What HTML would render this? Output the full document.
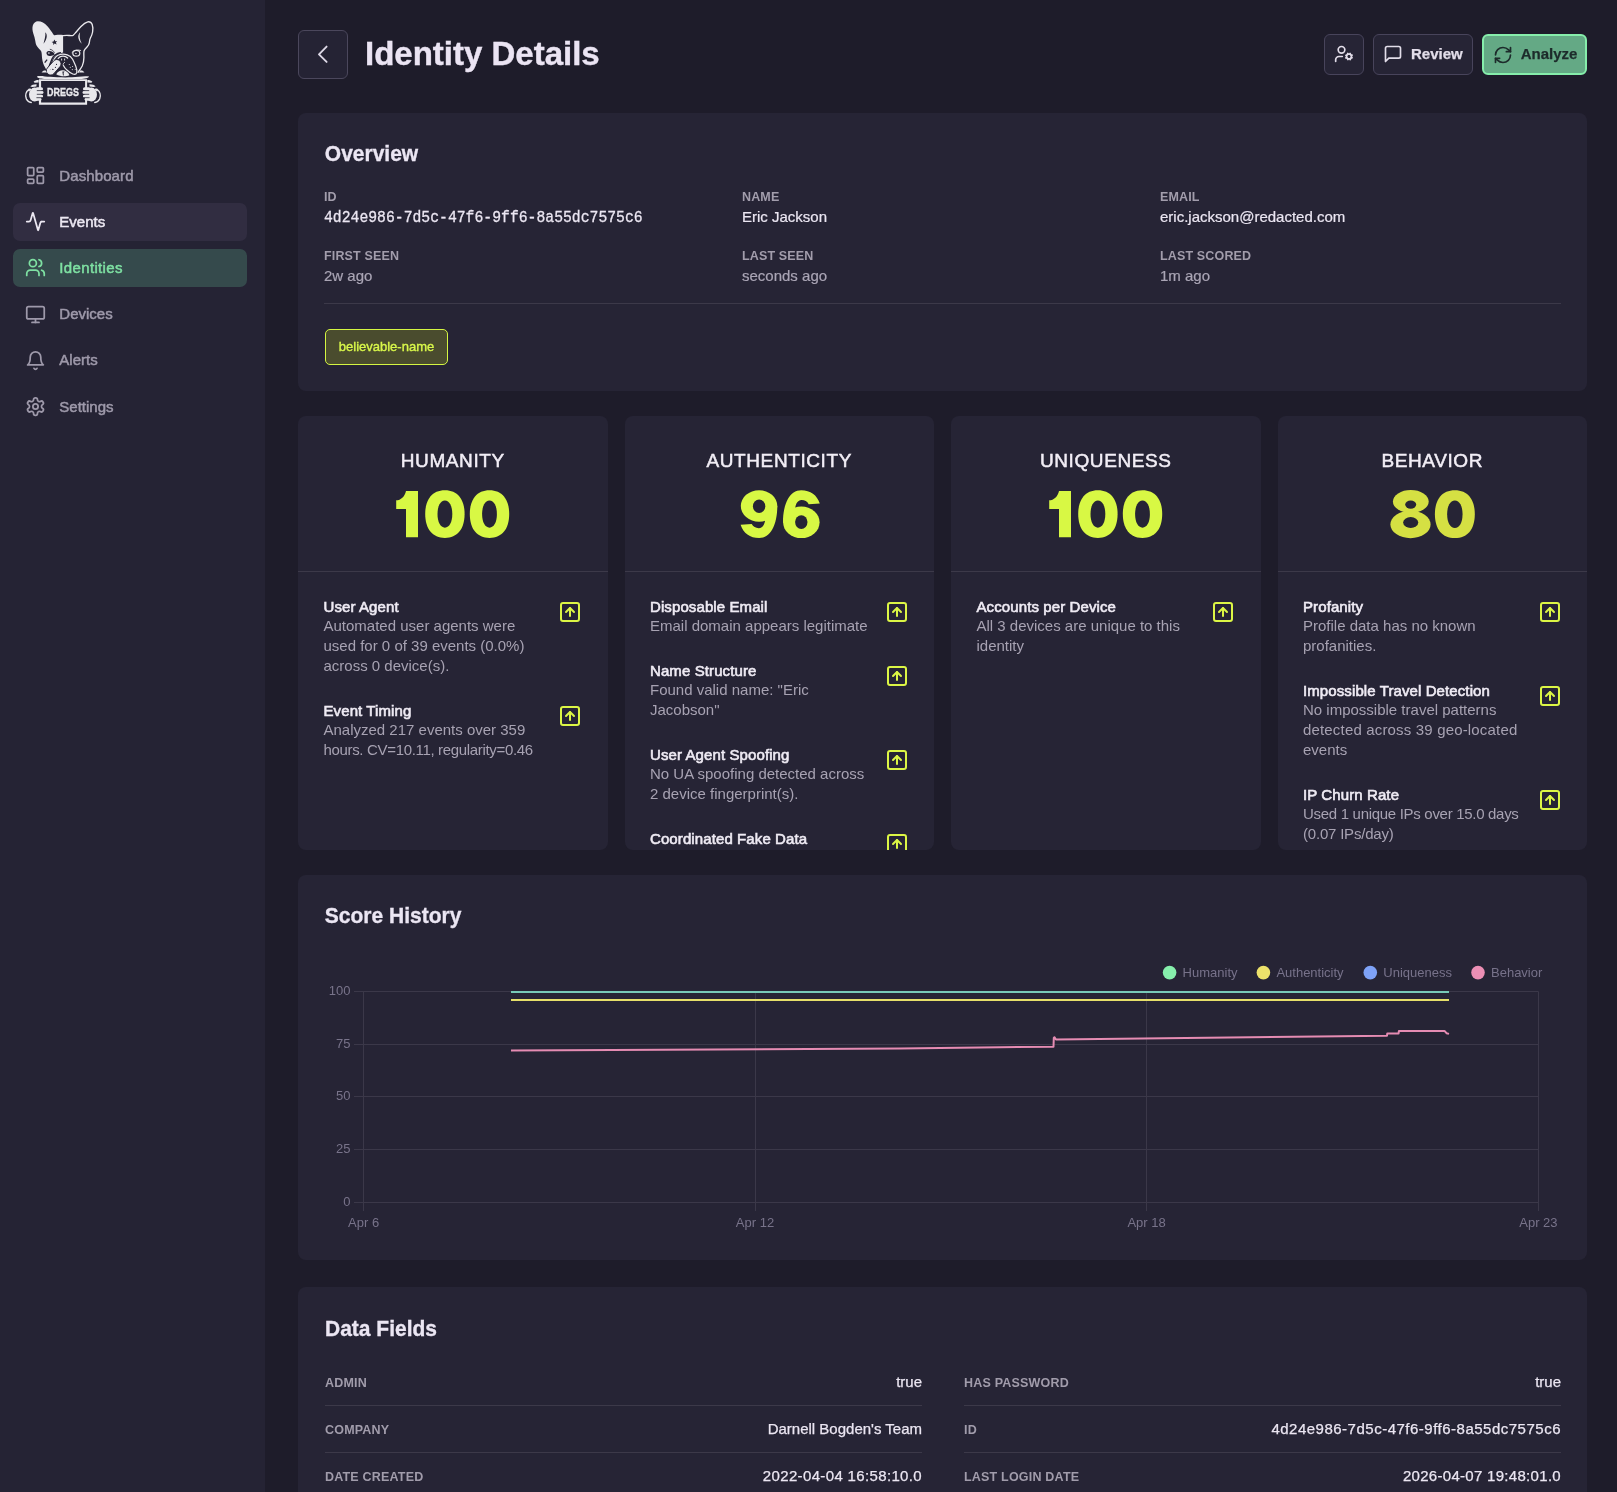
<!DOCTYPE html>
<html><head><meta charset="utf-8"><title>Identity Details</title>
<style>
*{box-sizing:border-box;margin:0;padding:0}
html,body{width:1617px;height:1492px;overflow:hidden}
body{background:#1e1c2a;font-family:"Liberation Sans",sans-serif;color:#e8e4f0;position:relative}
.side{position:absolute;left:0;top:0;width:265px;height:1492px;background:#252334}
.nav{position:absolute;left:13px;width:234px;height:38px;border-radius:7px;font-size:15px;line-height:20px;color:#9e99aa;-webkit-text-stroke:0.5px currentColor}
.nav svg{position:absolute;left:11.5px;top:8px}
.nav span{position:absolute;left:46.3px;top:9px}
.nav.hov{background:#312d41;color:#ece8f2}
.nav.act{background:#354a4c;color:#7ee0a2}
.main{position:absolute;left:298px;top:0;width:1289px}
.card{position:absolute;background:#262435;border-radius:8px}
.h2{position:absolute;font-size:21px;line-height:24px;font-weight:bold;color:#ebe6f3;-webkit-text-stroke:0.3px #ebe6f3;transform:scaleY(1.07);transform-origin:0 19.3px}

.back{position:absolute;left:298px;top:30px;width:50px;height:49px;border:1.7px solid #4b475c;border-radius:6px;background:#252334;color:#ddd8e6}
.back svg{position:absolute;left:-1.5px;top:-1.5px}
.title{position:absolute;left:365px;top:34.2px;font-size:33px;line-height:40px;font-weight:bold;color:#ebe4f3;-webkit-text-stroke:0.4px #ebe4f3}
.btn{position:absolute;top:34px;height:40.6px;border:1.7px solid #48445b;border-radius:6px;background:#262435;color:#e2dde9;font-size:15px;font-weight:bold;-webkit-text-stroke:0.25px currentColor}
.btn svg{position:absolute;left:9px;top:9.3px}
.btn span{position:absolute;left:37px;top:8.6px;line-height:20px}
.btn.grn{background:#64a985;border:2px solid #86eeab;color:#1d2b2b}
.btn.grn span{left:36.7px;top:8.3px}
.btn.grn svg{left:8.7px;top:9.2px}
.f{position:absolute}
.lab{font-size:12.5px;font-weight:bold;color:#a29dac;letter-spacing:0.15px;line-height:14px;margin-top:1px}
.val{font-size:15px;color:#ebe6f2;margin-top:3.5px;line-height:17px;-webkit-text-stroke:0.2px currentColor}
.val.dim{color:#aaa5b5}
.mono{font-family:"Liberation Mono",monospace;font-size:14.75px;-webkit-text-stroke:0.25px currentColor;transform:translateY(1.9px) scaleY(1.13);transform-origin:0 12.45px}
.hr{position:absolute;height:1px;background:#3c3949}
.tag{position:absolute;left:27px;top:216px;height:36px;width:123px;border:1.5px solid #d4f542;border-radius:5px;background:#4a4c2e;color:#d9f84a;font-size:13px;-webkit-text-stroke:0.35px currentColor;text-align:center;line-height:33px}

.sc{overflow:hidden}
.num{position:absolute;left:0;top:0}
.sct{position:absolute;left:0;width:100%;top:32.5px;text-align:center;font-size:19px;line-height:24px;color:#f2eef6;letter-spacing:0.6px;-webkit-text-stroke:0.5px #f2eef6}
.scn{position:absolute;left:0;width:310px;top:64px;text-align:center;font-size:67px;line-height:80px;font-weight:bold;color:#d7f946}
.scn span{display:inline-block;transform:scaleX(1.08)}
.scn.b80{color:#d6e03e}
.items{position:absolute;left:25.5px;top:181.8px;width:285px}
.it{position:relative;margin-bottom:26px}
.itt{font-size:15px;line-height:18px;color:#efebf4;letter-spacing:0.1px;-webkit-text-stroke:0.6px #efebf4}
.itd{font-size:15px;line-height:20px;color:#a7a2b2}
.ic{position:absolute;left:234.6px;top:2.1px;color:#dcf645}

.chart{position:absolute;left:0;top:0}
.yl{font-family:"Liberation Sans",sans-serif;font-size:13px;fill:#78738a}
.lg{font-family:"Liberation Sans",sans-serif;font-size:13px;fill:#77728a}
.dr{position:absolute;width:597px;height:24px;line-height:24px}
.dk{position:absolute;left:0;top:0;font-size:12.5px;font-weight:bold;color:#a19cab;letter-spacing:0.2px}
.dv{position:absolute;right:0;top:-1.2px;font-size:15px;color:#ebe6f2;-webkit-text-stroke:0.25px currentColor}
.root{position:absolute;left:0;top:0;width:1617px;height:1492px;will-change:transform}
</style></head>
<body><div class="root">
<div class="side">
  <svg class="logo" width="140" height="120" viewBox="0 0 140 120" style="position:absolute;left:0;top:0">
<defs><style>.w{fill:#e9e8ec}.d{fill:#252334}.ws{fill:none;stroke:#e9e8ec;stroke-linecap:round;stroke-linejoin:round}.ds{fill:none;stroke:#252334;stroke-linecap:round;stroke-linejoin:round}</style></defs>
<!-- left ear + left half face -->
<path class="w" d="M37.9,21.2 C35.6,21.2 33.6,23 32.8,25.6 C32.1,28.4 32.5,31 33.3,33.4 C34.2,36 34.9,38.5 35.3,41 C35.6,43.2 36,45 37.2,46.6 C38.4,48.3 40,49.6 41.3,51.6 C41.9,53.6 41.8,56 42.1,58.5 C42.5,61.5 43.4,64.5 45,67.3 C45.8,68.8 46.8,70.6 47.8,72.2 L52,62 L56.6,54.4 L63.1,52.6 L63.1,35.1 C61,34.8 58.4,34.6 56,35.1 C55,35.3 54.2,35.3 53.4,34.4 C51.6,31.8 49.6,28.6 47.2,26 C44.6,23 41.4,21.2 37.9,21.2 Z"/>
<!-- right ear + face outline -->
<path class="ws" stroke-width="1.35" d="M63.1,35.6 C65,35.4 67,35.2 69,35.5 C70.6,35.7 71.8,35.9 73,35.3 C74.2,34.6 75,33.4 76,32.2 C77.6,30.2 79.2,28.2 81,26.4 C83.2,24.2 85.4,22.4 87.8,21.8 C89.6,21.5 91.2,22.3 92.2,24.6 C93,26.8 93,29.6 92.6,32 C92.2,34.2 91.4,36.2 90.4,38 C89.6,39.6 89.6,41.2 89.3,42.8 C89,44.4 88.2,45.8 87,47 C85.8,48.2 84.4,49.4 84,51 C83.6,53 83.9,55.4 83.9,57.6 C83.9,60.6 83.4,63.4 82.2,66 C80.8,68.6 79.2,70.6 78,72.4"/>
<!-- left ear slit -->
<path class="d" d="M45.3,32.2 C47.6,34.6 47.4,38.8 43.5,43.8 C44.3,39.8 45.9,36 45.3,32.2 Z"/>
<!-- right ear inner -->
<path class="w" d="M80.1,32.2 C77.3,35 77.6,39.6 81.8,43.8 C79.6,39.6 79.2,35.6 80.1,32.2 Z"/>
<!-- star -->
<path class="d" d="M54.4,39.6 L55.3,41.3 L57.2,41.2 L55.9,42.6 L56.6,44.5 L54.7,43.6 L53.1,44.9 L53.3,42.9 L51.6,41.9 L53.5,41.4 Z"/>
<!-- left eye -->
<path class="d" d="M46.5,52.4 C47.6,50.8 50.2,50.6 52.4,51.8 C53.6,52.6 54.4,53.6 54.6,54.6 C53,55.8 50.6,56.4 48.6,55.8 C47.2,55.3 46.2,54 46.5,52.4 Z"/>
<circle class="w" cx="48.9" cy="53.1" r="0.8"/>
<path class="ds" stroke-width="0.8" d="M50.2,49.3 C52,49.6 53.6,50.8 54.3,52.6"/>
<!-- right eye -->
<ellipse class="ws" stroke-width="1.2" cx="76.3" cy="53.2" rx="3.5" ry="2.9"/>
<path class="ws" stroke-width="0.9" d="M72,52.4 C74,50.2 77.6,49.4 80.6,50.4"/>
<circle class="w" cx="75.9" cy="53.4" r="0.7"/>
<!-- cheek dash -->
<path class="d" d="M46.6,59.2 L47.6,60 L45.2,62.9 L44.2,62.2 Z"/>
<!-- muzzle interior dark -->
<path class="d" d="M48.4,72.6 C49,68.5 50.5,63.5 52.6,59.2 C54.4,56 57.8,53.6 62.2,53.2 C66.8,53 70.4,54.8 72.6,57.8 C74.6,60.8 76,64.6 77.2,68.2 C77.8,70.4 77.8,72.6 76.6,74 C75,75.4 72.4,75 70.4,73.6 L66,76.5 L56,76.5 Z"/>
<!-- muzzle dark outline over white face -->
<path class="ds" stroke-width="1.5" d="M47.6,72.8 C48.4,68.6 49.8,63.6 52,59 C53.8,55.6 56.8,53.4 60.4,52.8"/>
<!-- muzzle white outline -->
<path class="ws" stroke-width="1.25" d="M53.1,61.6 C54.2,58.6 55.6,56.4 58,55.2 C60.6,54 64.2,53.8 67.2,54.8 C69.6,55.6 71.4,57 72.6,59.2 C73.8,61.4 74.8,63.8 75.8,66.2 C76.6,68.4 77.4,70.6 76.8,72.6 C76.2,74.2 74.4,74.6 72.8,74 C70.8,73.2 69,71.8 67.2,70.2 C65.6,68.8 64.2,67.2 63.4,65.4"/>
<!-- nose top arc -->
<path class="ws" stroke-width="1.3" d="M58.2,58.4 C59.6,56.8 61.4,56.2 63,56.2 C64.8,56.2 66.4,56.8 67.6,58"/>
<!-- nostrils -->
<rect class="w" x="61.2" y="58.4" width="0.9" height="2.2" rx="0.3"/>
<rect class="w" x="64.2" y="58.4" width="0.9" height="2.2" rx="0.3"/>
<!-- nose bottom -->
<path class="ws" stroke-width="1" d="M63.2,64.2 C63.6,63 64.2,62.4 64.6,62.4"/>
<!-- band-aid jowl -->
<g transform="rotate(-48.7 53.7 67.3)">
<rect x="44.8" y="63" width="17.8" height="8.6" rx="4.2" fill="#e9e8ec" stroke="#252334" stroke-width="0.9"/>
</g>
<circle class="d" cx="56.5" cy="64.4" r="0.55"/><circle class="d" cx="55.4" cy="67.4" r="0.55"/><circle class="d" cx="52.5" cy="69.3" r="0.55"/><circle class="d" cx="53.5" cy="69.5" r="0.45"/><circle class="d" cx="50.5" cy="69.2" r="0.3"/>
<!-- right jowl dots -->
<circle class="w" cx="69.3" cy="64.5" r="0.55"/><circle class="w" cx="70.3" cy="67.2" r="0.55"/><circle class="w" cx="72.6" cy="66.5" r="0.55"/><circle class="w" cx="72.3" cy="69.6" r="0.55"/><circle class="w" cx="75.2" cy="69.6" r="0.5"/>
<!-- chin -->
<path class="w" d="M56.2,74.2 C57.8,71.4 60.6,70 63.2,70.2 C65.2,70.4 67,71.6 68.6,73.4 L69.4,75.2 C66,76.8 60.4,76.8 56.2,74.2 Z"/>
<path class="d" d="M62.4,71.4 L64.6,71.6 L63.6,72.8 L63.8,75.4 L63,75.4 L62.6,73.2 Z"/>
<!-- shoulder triangles -->
<path class="w" d="M41.6,72.4 C42.6,71 44,70.2 45.4,70.2 L47,72.4 Z"/>
<path class="w" d="M84.4,72.4 C83.4,71 82,70.2 80.6,70.2 L79,72.4 Z"/>
<!-- collar band -->
<path class="w" d="M36.8,76.4 C40.5,75.2 45,76.6 50,76.8 C56,77.3 64,77.6 72,77.3 C78,77 83,75.6 89.2,76.4 C88.4,78 85,78.8 80,79 L46,79 C41,78.8 37.6,78.2 36.8,76.4 Z"/>
<!-- sleeve stripes left -->
<path class="w" d="M33.6,81.8 C34.6,80.6 36.4,80 38.6,80 L38.6,82.6 L34.6,82.8 Z"/>
<path class="w" d="M30.4,86.4 C31.4,85 33.6,84.2 36.6,84.2 L36.4,86.4 L32.4,87 Z"/>
<path class="w" d="M28,90.8 C28.6,89.6 29.6,88.8 31,88.6 L31.4,89.8 L29,91.6 Z"/>
<!-- sleeve stripes right -->
<path class="w" d="M92.4,81.8 C91.4,80.6 89.6,80 87.4,80 L87.4,82.6 L91.4,82.8 Z"/>
<path class="w" d="M95.6,86.4 C94.6,85 92.4,84.2 89.4,84.2 L89.6,86.4 L93.6,87 Z"/>
<path class="w" d="M98,90.8 C97.4,89.6 96.4,88.8 95,88.6 L94.6,89.8 L97,91.6 Z"/>
<!-- sign -->
<path class="w" fill-rule="evenodd" d="M38.9,79.2 H87.1 V104.8 H38.9 Z M41.1,80.9 V102.4 H85.1 V80.9 Z"/>
<!-- paws -->
<ellipse class="w" cx="34.6" cy="94.6" rx="5.6" ry="7"/>
<rect class="w" x="35.5" y="87.2" width="7.5" height="3.3" rx="1.6"/>
<rect class="w" x="35.5" y="90.7" width="8.0" height="3.5" rx="1.6"/>
<rect class="w" x="35.5" y="94.4" width="7.5" height="3.4" rx="1.6"/>
<rect class="w" x="34.5" y="97.6" width="6.9" height="3.2" rx="1.6"/>
<path class="ds" stroke-width="0.8" d="M37.2,90.6 H43.6 M37.2,94.3 H43.6 M36.8,97.7 H42.4"/>
<ellipse class="w" cx="91.4" cy="94.6" rx="5.6" ry="7"/>
<rect class="w" x="83.0" y="87.2" width="7.5" height="3.3" rx="1.6"/>
<rect class="w" x="82.5" y="90.7" width="8.0" height="3.5" rx="1.6"/>
<rect class="w" x="83.0" y="94.4" width="7.5" height="3.4" rx="1.6"/>
<rect class="w" x="84.6" y="97.6" width="6.9" height="3.2" rx="1.6"/>
<path class="ds" stroke-width="0.8" d="M88.8,90.6 H82.4 M88.8,94.3 H82.4 M89.2,97.7 H83.6"/>
<path class="ws" stroke-width="1.5" d="M29.4,89.2 C26.2,91.4 24.8,95.4 26.4,99 C27.4,101 29.2,102.2 31.2,102.4"/>
<path class="ws" stroke-width="1.5" d="M96.6,89.2 C99.8,91.4 101.2,95.4 99.6,99 C98.6,101 96.8,102.2 94.8,102.4"/>
<text x="63" y="96" text-anchor="middle" font-family="Liberation Sans" font-weight="bold" font-size="11.8" fill="#e9e8ec" stroke="#e9e8ec" stroke-width="0.35" transform="translate(63 0) scale(0.76 1) translate(-63 0)">DREGS</text>
</svg>

  <div class="nav" style="top:157px"><svg width="21" height="21" viewBox="0 0 24 24" fill="none" stroke="currentColor" stroke-width="2" stroke-linecap="round" stroke-linejoin="round"><rect width="7" height="9" x="3" y="3" rx="1"/><rect width="7" height="5" x="14" y="3" rx="1"/><rect width="7" height="9" x="14" y="12" rx="1"/><rect width="7" height="5" x="3" y="16" rx="1"/></svg><span style="letter-spacing:0.1px">Dashboard</span></div>
  <div class="nav hov" style="top:203px"><svg width="21" height="21" viewBox="0 0 24 24" fill="none" stroke="currentColor" stroke-width="2" stroke-linecap="round" stroke-linejoin="round"><path d="M22 12h-2.48a2 2 0 0 0-1.93 1.46l-2.35 8.36a.25.25 0 0 1-.48 0L9.24 2.18a.25.25 0 0 0-.48 0l-2.35 8.36A2 2 0 0 1 4.49 12H2"/></svg><span>Events</span></div>
  <div class="nav act" style="top:249px"><svg width="21" height="21" viewBox="0 0 24 24" fill="none" stroke="currentColor" stroke-width="2" stroke-linecap="round" stroke-linejoin="round"><path d="M16 21v-2a4 4 0 0 0-4-4H6a4 4 0 0 0-4 4v2"/><circle cx="9" cy="7" r="4"/><path d="M22 21v-2a4 4 0 0 0-3-3.87"/><path d="M16 3.13a4 4 0 0 1 0 7.75"/></svg><span style="letter-spacing:0.35px">Identities</span></div>
  <div class="nav" style="top:295px"><svg style="top:9px" width="21" height="21" viewBox="0 0 24 24" fill="none" stroke="currentColor" stroke-width="2" stroke-linecap="round" stroke-linejoin="round"><rect width="20" height="14" x="2" y="3" rx="2"/><line x1="8" x2="16" y1="21" y2="21"/><line x1="12" x2="12" y1="17" y2="21"/></svg><span>Devices</span></div>
  <div class="nav" style="top:341px"><svg style="top:9px" width="21" height="21" viewBox="0 0 24 24" fill="none" stroke="currentColor" stroke-width="2" stroke-linecap="round" stroke-linejoin="round"><path d="M6 8a6 6 0 0 1 12 0c0 7 3 9 3 9H3s3-2 3-9"/><path d="M10.3 21a1.94 1.94 0 0 0 3.4 0"/></svg><span>Alerts</span></div>
  <div class="nav" style="top:388px"><svg width="21" height="21" viewBox="0 0 24 24" fill="none" stroke="currentColor" stroke-width="2" stroke-linecap="round" stroke-linejoin="round"><path d="M12.22 2h-.44a2 2 0 0 0-2 2v.18a2 2 0 0 1-1 1.73l-.43.25a2 2 0 0 1-2 0l-.15-.08a2 2 0 0 0-2.73.73l-.22.38a2 2 0 0 0 .73 2.73l.15.1a2 2 0 0 1 1 1.72v.51a2 2 0 0 1-1 1.74l-.15.09a2 2 0 0 0-.73 2.73l.22.38a2 2 0 0 0 2.73.73l.15-.08a2 2 0 0 1 2 0l.43.25a2 2 0 0 1 1 1.73V20a2 2 0 0 0 2 2h.44a2 2 0 0 0 2-2v-.18a2 2 0 0 1 1-1.73l.43-.25a2 2 0 0 1 2 0l.15.08a2 2 0 0 0 2.73-.73l.22-.39a2 2 0 0 0-.73-2.73l-.15-.08a2 2 0 0 1-1-1.74v-.5a2 2 0 0 1 1-1.74l.15-.09a2 2 0 0 0 .73-2.73l-.22-.38a2 2 0 0 0-2.73-.73l-.15.08a2 2 0 0 1-2 0l-.43-.25a2 2 0 0 1-1-1.73V4a2 2 0 0 0-2-2z"/><circle cx="12" cy="12" r="3"/></svg><span>Settings</span></div>
</div>

<div class="back"><svg width="50" height="49" viewBox="0 0 50 49" fill="none" stroke="currentColor" stroke-width="1.9" stroke-linecap="round" stroke-linejoin="round"><path d="M28.6,16.6 L21,24.3 L28.6,31.9"/></svg></div>
<div class="title">Identity Details</div>
<div class="btn ico" style="left:1324px;width:40px"><svg width="20" height="20" viewBox="0 0 24 24" fill="none" stroke="currentColor" stroke-width="2" stroke-linecap="round" stroke-linejoin="round"><circle cx="18" cy="15" r="3"/><circle cx="9" cy="7" r="4"/><path d="M10 15H6a4 4 0 0 0-4 4v2"/><path d="m21.7 16.4-.9-.3"/><path d="m15.2 13.9-.9-.3"/><path d="m16.6 18.7.3-.9"/><path d="m19.1 12.2.3-.9"/><path d="m19.6 18.7-.4-1"/><path d="m16.8 12.3-.4-1"/><path d="m14.3 16.6 1-.4"/><path d="m20.7 13.8 1-.4"/></svg></div>
<div class="btn" style="left:1373px;width:100px"><svg width="20" height="20" viewBox="0 0 24 24" fill="none" stroke="currentColor" stroke-width="2" stroke-linecap="round" stroke-linejoin="round"><path d="M21 15a2 2 0 0 1-2 2H7l-4 4V5a2 2 0 0 1 2-2h14a2 2 0 0 1 2 2z"/></svg><span>Review</span></div>
<div class="btn grn" style="left:1482px;width:105px"><svg width="20" height="20" viewBox="0 0 24 24" fill="none" stroke="currentColor" stroke-width="2" stroke-linecap="round" stroke-linejoin="round"><path d="M3 12a9 9 0 0 1 9-9 9.75 9.75 0 0 1 6.74 2.74L21 8"/><path d="M21 3v5h-5"/><path d="M21 12a9 9 0 0 1-9 9 9.75 9.75 0 0 1-6.74-2.74L3 16"/><path d="M8 16H3v5"/></svg><span>Analyze</span></div>

<div class="card" style="left:298px;top:113px;width:1289px;height:278px">
  <div class="h2" style="left:26.8px;top:29px">Overview</div>
  <div class="f" style="left:26px;top:76px"><div class="lab">ID</div><div class="val mono">4d24e986-7d5c-47f6-9ff6-8a55dc7575c6</div></div>
  <div class="f" style="left:444px;top:76px"><div class="lab">NAME</div><div class="val">Eric Jackson</div></div>
  <div class="f" style="left:862px;top:76px"><div class="lab">EMAIL</div><div class="val">eric.jackson@redacted.com</div></div>
  <div class="f" style="left:26px;top:135px"><div class="lab">FIRST SEEN</div><div class="val dim">2w ago</div></div>
  <div class="f" style="left:444px;top:135px"><div class="lab">LAST SEEN</div><div class="val dim">seconds ago</div></div>
  <div class="f" style="left:862px;top:135px"><div class="lab">LAST SCORED</div><div class="val dim">1m ago</div></div>
  <div class="hr" style="left:26px;top:190px;width:1237px"></div>
  <div class="tag">believable-name</div>
</div>
<div class="card sc" style="left:298px;top:416px;width:309.5px;height:433.5px"><div class="sct">HUMANITY</div><svg class="num" width="309.5" height="155" viewBox="298 416 309.5 155"><path transform="translate(395.80 490.20)" d="M10.2,0.8 H22.2 V47 H10.2 V18.9 H0.4 V10.1 C5,10.1 9,6.5 10.2,0.8 Z" fill="#d8f844"/><path d="M425.20,514.05 C425.20,499.02 432.49,490.20 444.90,490.20 C457.31,490.20 464.60,499.02 464.60,514.05 C464.60,529.08 457.31,537.90 444.90,537.90 C432.49,537.90 425.20,529.08 425.20,514.05 Z" fill="#d8f844"/><path d="M437.50,514.05 C437.50,505.89 440.46,500.45 444.90,500.45 C449.34,500.45 452.30,505.89 452.30,514.05 C452.30,522.21 449.34,527.65 444.90,527.65 C440.46,527.65 437.50,522.21 437.50,514.05 Z" fill="#262435"/><path d="M469.80,514.05 C469.80,499.02 477.09,490.20 489.50,490.20 C501.91,490.20 509.20,499.02 509.20,514.05 C509.20,529.08 501.91,537.90 489.50,537.90 C477.09,537.90 469.80,529.08 469.80,514.05 Z" fill="#d8f844"/><path d="M482.10,514.05 C482.10,505.89 485.06,500.45 489.50,500.45 C493.94,500.45 496.90,505.89 496.90,514.05 C496.90,522.21 493.94,527.65 489.50,527.65 C485.06,527.65 482.10,522.21 482.10,514.05 Z" fill="#262435"/></svg><div class="hr" style="left:0;top:155px;width:100%"></div><div class="items"><div class="it"><div class="itt">User Agent</div><div class="itd">Automated user agents were<br>used for 0 of 39 events (0.0%)<br>across 0 device(s).</div><svg class="ic" width="24" height="24" viewBox="0 0 24 24" fill="none" stroke="currentColor" stroke-width="2" stroke-linecap="round" stroke-linejoin="round"><rect width="18" height="18" x="3" y="3" rx="2"/><path d="m16 12-4-4-4 4"/><path d="M12 16V8"/></svg></div><div class="it"><div class="itt">Event Timing</div><div class="itd">Analyzed 217 events over 359<br><span style="letter-spacing:-0.33px">hours. CV=10.11, regularity=0.46</span></div><svg class="ic" width="24" height="24" viewBox="0 0 24 24" fill="none" stroke="currentColor" stroke-width="2" stroke-linecap="round" stroke-linejoin="round"><rect width="18" height="18" x="3" y="3" rx="2"/><path d="m16 12-4-4-4 4"/><path d="M12 16V8"/></svg></div></div></div>
<div class="card sc" style="left:624.5px;top:416px;width:309.5px;height:433.5px"><div class="sct">AUTHENTICITY</div><svg class="num" width="309.5" height="155" viewBox="624.5 416 309.5 155"><g transform="translate(739.90 490.20) rotate(180 18.45 23.95)"><ellipse cx="18.25" cy="32.15" rx="18.25" ry="15.75" fill="#d8f844"/><path d="M0,32 C0,12.8 6.9,0 18.1,0 C27.4,0 33.9,4.8 36.7,13.3 L25.6,14 C24.2,11.4 21.6,9.9 18.6,9.9 C13.9,9.9 11.9,14.8 11.9,21.8 L11.9,32 Z" fill="#d8f844"/><ellipse cx="18.2" cy="31.9" rx="6.2" ry="6.8" fill="#262435"/></g><g transform="translate(782.60 490.20)"><ellipse cx="18.25" cy="32.15" rx="18.25" ry="15.75" fill="#d8f844"/><path d="M0,32 C0,12.8 6.9,0 18.1,0 C27.4,0 33.9,4.8 36.7,13.3 L25.6,14 C24.2,11.4 21.6,9.9 18.6,9.9 C13.9,9.9 11.9,14.8 11.9,21.8 L11.9,32 Z" fill="#d8f844"/><ellipse cx="18.2" cy="31.9" rx="6.2" ry="6.8" fill="#262435"/></g></svg><div class="hr" style="left:0;top:155px;width:100%"></div><div class="items"><div class="it"><div class="itt">Disposable Email</div><div class="itd">Email domain appears legitimate</div><svg class="ic" width="24" height="24" viewBox="0 0 24 24" fill="none" stroke="currentColor" stroke-width="2" stroke-linecap="round" stroke-linejoin="round"><rect width="18" height="18" x="3" y="3" rx="2"/><path d="m16 12-4-4-4 4"/><path d="M12 16V8"/></svg></div><div class="it"><div class="itt">Name Structure</div><div class="itd">Found valid name: "Eric<br>Jacobson"</div><svg class="ic" width="24" height="24" viewBox="0 0 24 24" fill="none" stroke="currentColor" stroke-width="2" stroke-linecap="round" stroke-linejoin="round"><rect width="18" height="18" x="3" y="3" rx="2"/><path d="m16 12-4-4-4 4"/><path d="M12 16V8"/></svg></div><div class="it"><div class="itt">User Agent Spoofing</div><div class="itd">No UA spoofing detected across<br>2 device fingerprint(s).</div><svg class="ic" width="24" height="24" viewBox="0 0 24 24" fill="none" stroke="currentColor" stroke-width="2" stroke-linecap="round" stroke-linejoin="round"><rect width="18" height="18" x="3" y="3" rx="2"/><path d="m16 12-4-4-4 4"/><path d="M12 16V8"/></svg></div><div class="it"><div class="itt">Coordinated Fake Data</div><div class="itd">No coordinated fake data detected</div><svg class="ic" width="24" height="24" viewBox="0 0 24 24" fill="none" stroke="currentColor" stroke-width="2" stroke-linecap="round" stroke-linejoin="round"><rect width="18" height="18" x="3" y="3" rx="2"/><path d="m16 12-4-4-4 4"/><path d="M12 16V8"/></svg></div></div></div>
<div class="card sc" style="left:951px;top:416px;width:309.5px;height:433.5px"><div class="sct">UNIQUENESS</div><svg class="num" width="309.5" height="155" viewBox="951 416 309.5 155"><path transform="translate(1048.80 490.20)" d="M10.2,0.8 H22.2 V47 H10.2 V18.9 H0.4 V10.1 C5,10.1 9,6.5 10.2,0.8 Z" fill="#d8f844"/><path d="M1078.20,514.05 C1078.20,499.02 1085.49,490.20 1097.90,490.20 C1110.31,490.20 1117.60,499.02 1117.60,514.05 C1117.60,529.08 1110.31,537.90 1097.90,537.90 C1085.49,537.90 1078.20,529.08 1078.20,514.05 Z" fill="#d8f844"/><path d="M1090.50,514.05 C1090.50,505.89 1093.46,500.45 1097.90,500.45 C1102.34,500.45 1105.30,505.89 1105.30,514.05 C1105.30,522.21 1102.34,527.65 1097.90,527.65 C1093.46,527.65 1090.50,522.21 1090.50,514.05 Z" fill="#262435"/><path d="M1122.80,514.05 C1122.80,499.02 1130.09,490.20 1142.50,490.20 C1154.91,490.20 1162.20,499.02 1162.20,514.05 C1162.20,529.08 1154.91,537.90 1142.50,537.90 C1130.09,537.90 1122.80,529.08 1122.80,514.05 Z" fill="#d8f844"/><path d="M1135.10,514.05 C1135.10,505.89 1138.06,500.45 1142.50,500.45 C1146.94,500.45 1149.90,505.89 1149.90,514.05 C1149.90,522.21 1146.94,527.65 1142.50,527.65 C1138.06,527.65 1135.10,522.21 1135.10,514.05 Z" fill="#262435"/></svg><div class="hr" style="left:0;top:155px;width:100%"></div><div class="items"><div class="it"><div class="itt">Accounts per Device</div><div class="itd">All 3 devices are unique to this<br>identity</div><svg class="ic" width="24" height="24" viewBox="0 0 24 24" fill="none" stroke="currentColor" stroke-width="2" stroke-linecap="round" stroke-linejoin="round"><rect width="18" height="18" x="3" y="3" rx="2"/><path d="m16 12-4-4-4 4"/><path d="M12 16V8"/></svg></div></div></div>
<div class="card sc" style="left:1277.5px;top:416px;width:309.5px;height:433.5px"><div class="sct">BEHAVIOR</div><svg class="num" width="309.5" height="155" viewBox="1277.5 416 309.5 155"><g transform="translate(1389.90 490.20)"><ellipse cx="20.4" cy="11.3" rx="17.9" ry="11.4" fill="#d5e043"/><ellipse cx="20.1" cy="34.2" rx="20.1" ry="13.75" fill="#d5e043"/><ellipse cx="20.3" cy="14.4" rx="5.5" ry="4.2" fill="#262435"/><ellipse cx="20.3" cy="32.3" rx="7.55" ry="5.4" fill="#262435"/></g><path d="M1434.40,514.15 C1434.40,499.06 1441.78,490.20 1454.35,490.20 C1466.92,490.20 1474.30,499.06 1474.30,514.15 C1474.30,529.24 1466.92,538.10 1454.35,538.10 C1441.78,538.10 1434.40,529.24 1434.40,514.15 Z" fill="#d5e043"/><path d="M1446.65,514.15 C1446.65,505.90 1449.73,500.40 1454.35,500.40 C1458.97,500.40 1462.05,505.90 1462.05,514.15 C1462.05,522.40 1458.97,527.90 1454.35,527.90 C1449.73,527.90 1446.65,522.40 1446.65,514.15 Z" fill="#262435"/></svg><div class="hr" style="left:0;top:155px;width:100%"></div><div class="items"><div class="it"><div class="itt">Profanity</div><div class="itd">Profile data has no known<br>profanities.</div><svg class="ic" width="24" height="24" viewBox="0 0 24 24" fill="none" stroke="currentColor" stroke-width="2" stroke-linecap="round" stroke-linejoin="round"><rect width="18" height="18" x="3" y="3" rx="2"/><path d="m16 12-4-4-4 4"/><path d="M12 16V8"/></svg></div><div class="it"><div class="itt">Impossible Travel Detection</div><div class="itd">No impossible travel patterns<br><span style="letter-spacing:0.17px">detected across 39 geo-located</span><br>events</div><svg class="ic" width="24" height="24" viewBox="0 0 24 24" fill="none" stroke="currentColor" stroke-width="2" stroke-linecap="round" stroke-linejoin="round"><rect width="18" height="18" x="3" y="3" rx="2"/><path d="m16 12-4-4-4 4"/><path d="M12 16V8"/></svg></div><div class="it"><div class="itt">IP Churn Rate</div><div class="itd"><span style="letter-spacing:-0.3px">Used 1 unique IPs over 15.0 days</span><br><span style="letter-spacing:-0.2px">(0.07 IPs/day)</span></div><svg class="ic" width="24" height="24" viewBox="0 0 24 24" fill="none" stroke="currentColor" stroke-width="2" stroke-linecap="round" stroke-linejoin="round"><rect width="18" height="18" x="3" y="3" rx="2"/><path d="m16 12-4-4-4 4"/><path d="M12 16V8"/></svg></div></div></div>
<div class="card" style="left:298px;top:875px;width:1289px;height:385px">
  <div class="h2" style="left:26.8px;top:29px">Score History</div>
  <svg class="chart" width="1289" height="385" viewBox="298 875 1289 385"><line x1="354" x2="1538.4" y1="1202.5" y2="1202.5" stroke="#3b3849" stroke-width="1"/><text x="350.5" y="1206.1" text-anchor="end" class="yl">0</text><line x1="354" x2="1538.4" y1="1149.5" y2="1149.5" stroke="#3b3849" stroke-width="1"/><text x="350.5" y="1153.1" text-anchor="end" class="yl">25</text><line x1="354" x2="1538.4" y1="1096.5" y2="1096.5" stroke="#3b3849" stroke-width="1"/><text x="350.5" y="1100.1" text-anchor="end" class="yl">50</text><line x1="354" x2="1538.4" y1="1044.5" y2="1044.5" stroke="#3b3849" stroke-width="1"/><text x="350.5" y="1048.1" text-anchor="end" class="yl">75</text><line x1="354" x2="1538.4" y1="991.5" y2="991.5" stroke="#3b3849" stroke-width="1"/><text x="350.5" y="995.1" text-anchor="end" class="yl">100</text><line x1="363.5" x2="363.5" y1="991.5" y2="1211" stroke="#3b3849" stroke-width="1"/><text x="363.6" y="1227" text-anchor="middle" class="yl">Apr 6</text><line x1="755.5" x2="755.5" y1="991.5" y2="1211" stroke="#3b3849" stroke-width="1"/><text x="755.0" y="1227" text-anchor="middle" class="yl">Apr 12</text><line x1="1146.5" x2="1146.5" y1="991.5" y2="1211" stroke="#3b3849" stroke-width="1"/><text x="1146.6" y="1227" text-anchor="middle" class="yl">Apr 18</text><line x1="1538.5" x2="1538.5" y1="991.5" y2="1211" stroke="#3b3849" stroke-width="1"/><text x="1538.4" y="1227" text-anchor="middle" class="yl">Apr 23</text><line x1="511" x2="1449" y1="992" y2="992" stroke="#78c9b8" stroke-width="2"/><line x1="511" x2="1449" y1="999.9" y2="999.9" stroke="#e6df6a" stroke-width="2"/><path d="M511,1050.6 L900,1048.5 L1000,1047.2 L1053.5,1046.8 L1053.8,1038 L1054.5,1037.2 L1056,1039.5 L1387,1035.7 L1387.3,1033.5 L1398.6,1033.5 L1398.9,1030.9 L1444.5,1030.9 L1446.5,1033.2 L1449,1033.9" fill="none" stroke="#e58cb3" stroke-width="2" stroke-linejoin="round"/><circle cx="1169.6" cy="972.6" r="6.8" fill="#86efac"/><text x="1182.6" y="977.3" class="lg">Humanity</text><circle cx="1263.4" cy="972.6" r="6.8" fill="#ede26b"/><text x="1276.4" y="977.3" class="lg">Authenticity</text><circle cx="1370.3" cy="972.6" r="6.8" fill="#7ea2f7"/><text x="1383.3" y="977.3" class="lg">Uniqueness</text><circle cx="1478" cy="972.6" r="6.8" fill="#ec8fb5"/><text x="1491" y="977.3" class="lg">Behavior</text></svg>
</div>
<div class="card" style="left:298px;top:1287px;width:1289px;height:260px"><div class="h2" style="left:27px;top:30px">Data Fields</div><div class="dr" style="left:27px;top:84.3px"><span class="dk">ADMIN</span><span class="dv">true</span></div><div class="hr" style="left:27px;top:118px;width:597px"></div><div class="dr" style="left:27px;top:131.3px"><span class="dk">COMPANY</span><span class="dv">Darnell Bogden's Team</span></div><div class="hr" style="left:27px;top:165px;width:597px"></div><div class="dr" style="left:27px;top:178.3px"><span class="dk">DATE CREATED</span><span class="dv" style="letter-spacing:0.35px">2022-04-04 16:58:10.0</span></div><div class="dr" style="left:666px;top:84.3px"><span class="dk">HAS PASSWORD</span><span class="dv">true</span></div><div class="hr" style="left:666px;top:118px;width:597px"></div><div class="dr" style="left:666px;top:131.3px"><span class="dk">ID</span><span class="dv" style="letter-spacing:0.5px">4d24e986-7d5c-47f6-9ff6-8a55dc7575c6</span></div><div class="hr" style="left:666px;top:165px;width:597px"></div><div class="dr" style="left:666px;top:178.3px"><span class="dk">LAST LOGIN DATE</span><span class="dv" style="letter-spacing:0.3px">2026-04-07 19:48:01.0</span></div></div>
<!-- MAIN -->
</div></body></html>
